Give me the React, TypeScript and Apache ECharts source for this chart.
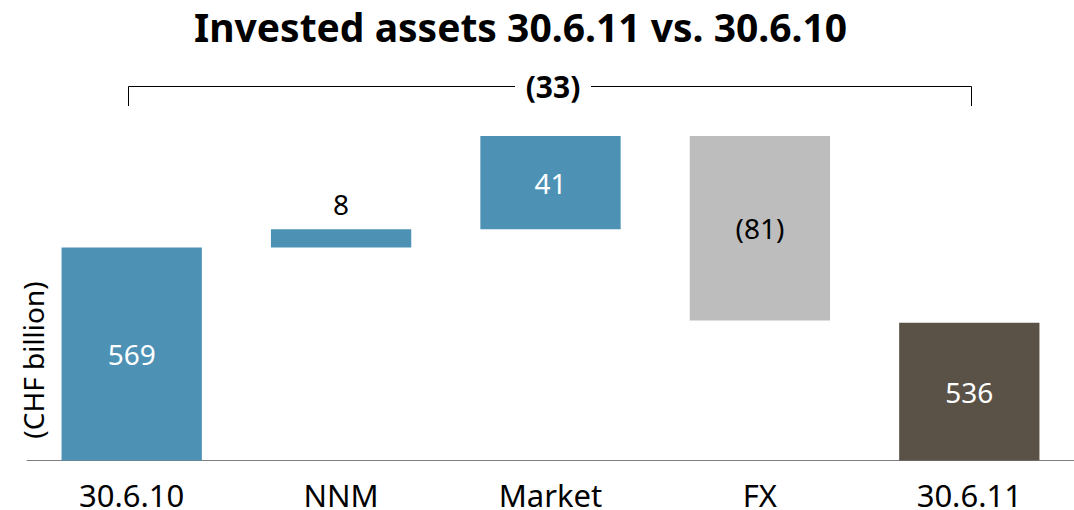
import React, { useEffect, useRef } from "react";
import * as echarts from "echarts";

const categories = ["30.6.10", "NNM", "Market", "FX", "30.6.11"];
const changes = [569, 8, 41, -81, 536];
const isTotal = [true, false, false, false, true];
const barColors = ["#4d91b5", "#4d91b5", "#4d91b5", "#bdbdbd", "#5a5247"];
const labelColors = ["#ffffff", "#000000", "#ffffff", "#000000", "#ffffff"];
const labelPositions = ["inside", "top", "inside", "inside", "inside"];
const bracketLabel = "(33)";
const titleText = "Invested assets 30.6.11 vs. 30.6.10";
const unitLabel = "(CHF billion)";

const FONT = "Noto Sans";

function buildWaterfall() {
  const base: number[] = [];
  const size: number[] = [];
  let running = 0;
  changes.forEach((v, i) => {
    if (isTotal[i]) {
      base.push(0);
      size.push(v);
      running = v;
    } else if (v >= 0) {
      base.push(running);
      size.push(v);
      running += v;
    } else {
      running += v;
      base.push(running);
      size.push(-v);
    }
  });
  return { base, size };
}

export default function App() {
  const ref = useRef<HTMLDivElement>(null);
  useEffect(() => {
    if (!ref.current) return;
    const chart = echarts.init(ref.current, null, { renderer: "svg" });
    const { base, size } = buildWaterfall();
    chart.setOption({
      animation: false,
      textStyle: { fontFamily: FONT },
      title: {
        text: titleText,
        left: 189,
        top: 2,
        textStyle: { fontFamily: FONT, fontSize: 39, fontWeight: "bold", color: "#000" },
      },
      grid: { left: 27, right: -2, top: 63, bottom: 49, containLabel: false },
      xAxis: {
        type: "category",
        data: categories,
        axisLine: { show: true, lineStyle: { color: "#808080", width: 1 } },
        axisTick: { show: false },
        axisLabel: { fontSize: 31, lineHeight: 26, color: "#000", margin: 21, fontFamily: FONT },
      },
      yAxis: {
        type: "value",
        min: 475.5,
        max: 650,
        show: false,
      },
      series: [
        {
          type: "bar",
          stack: "wf",
          data: base,
          itemStyle: { color: "transparent" },
          silent: true,
          barWidth: "67%",
        },
        {
          type: "bar",
          stack: "wf",
          barWidth: "67%",
          data: size.map((s, i) => ({
            value: s,
            itemStyle: { color: barColors[i] },
            label: {
              show: true,
              position: labelPositions[i],
              distance: 11,
              color: labelColors[i],
              fontSize: 28,
              fontFamily: FONT,
              formatter: () => (changes[i] < 0 ? `(${Math.abs(changes[i])})` : `${changes[i]}`),
            },
          })),
        },
      ],
      graphic: [
        {
          type: "polyline",
          shape: { points: [[128.5, 106], [128.5, 86.5], [515, 86.5]] },
          style: { stroke: "#000", lineWidth: 1, fill: null },
        },
        {
          type: "polyline",
          shape: { points: [[591, 86.5], [971.5, 86.5], [971.5, 106]] },
          style: { stroke: "#000", lineWidth: 1, fill: null },
        },
        {
          type: "text",
          x: 553,
          y: 86,
          style: {
            text: bracketLabel,
            align: "center",
            verticalAlign: "middle",
            fontSize: 30,
            fontWeight: "bold",
            fontFamily: FONT,
            fill: "#000",
          },
        },
        {
          type: "text",
          x: 33,
          y: 360,
          rotation: Math.PI / 2,
          style: {
            text: unitLabel,
            align: "center",
            verticalAlign: "middle",
            fontSize: 28,
            fontFamily: FONT,
            fill: "#000",
          },
        },
      ],
    });
    return () => chart.dispose();
  }, []);
  return (
    <div
      ref={ref}
      style={{ position: "fixed", left: 0, top: 0, width: 1074, height: 510, background: "#fff" }}
    />
  );
}
